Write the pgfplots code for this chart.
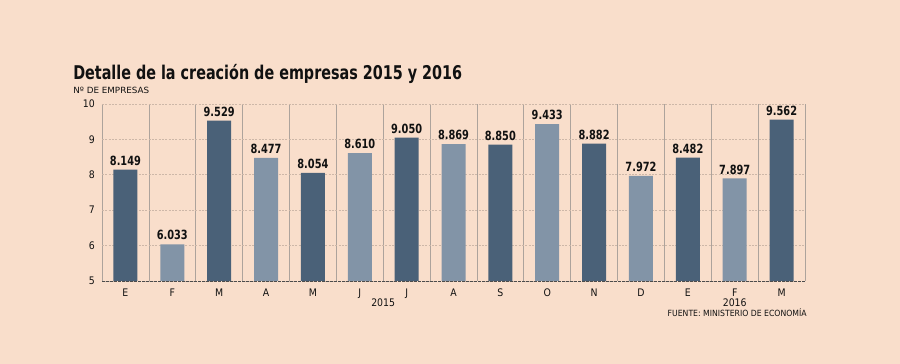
\documentclass[border=0pt]{standalone}
\usepackage{pgfplots}
\pgfplotsset{compat=1.18}
\usepackage{fontspec}
\usepackage{graphicx}
\IfFontExistsTF{DejaVu Sans Condensed}{\setmainfont{DejaVu Sans Condensed}}{\setmainfont{DejaVu Sans}}
\definecolor{bg}{HTML}{F9DECB}
\definecolor{darkbar}{HTML}{4A6178}
\definecolor{lightbar}{HTML}{8294A7}
\definecolor{vline}{HTML}{ADA39C}
\definecolor{hline}{HTML}{CDB7A8}
\definecolor{txt}{HTML}{111111}
\begin{document}
\begin{tikzpicture}
\fill[bg] (0pt,0pt) rectangle (675pt,273pt);
\node[anchor=base west,inner sep=0,text=txt] at (54.75pt,213pt) {\resizebox{291.75pt}{\height}{\fontsize{14.2}{16}\selectfont\bfseries Detalle de la creación de empresas 2015 y 2016}};
\node[anchor=base west,inner sep=0,text=txt] at (54.75pt,202.5pt) {\resizebox{57pt}{\height}{\fontsize{6.4}{7}\selectfont Nº DE EMPRESAS}};
\node[anchor=base east,inner sep=0,text=txt] at (605.25pt,35.25pt) {\resizebox{104.25pt}{\height}{\fontsize{6.4}{7}\selectfont FUENTE: MINISTERIO DE ECONOMÍA}};
\begin{axis}[
  at={(76.5pt,62.25pt)}, anchor=south west,
  scale only axis, width=527.25pt, height=132.75pt,
  xmin=-0.5, xmax=14.5, ymin=5, ymax=10,
  clip=false,
  axis line style={draw=none},
  major tick length=0pt, minor tick length=0pt,
  ytick={5,6,7,8,9,10},
  xtick={0,...,14},
  xticklabels={E,F,M,A,M,J,J,A,S,O,N,D,E,F,M},
  minor xtick={-0.5,0.5,...,14.5},
  xminorgrids, ymajorgrids,
  minor x grid style={solid, color=vline, line width=0.5pt},
  y grid style={dash pattern=on 1.5pt off 1pt, color=hline, line width=0.5pt},
  /pgf/number format/assume math mode=true,
  yticklabel style={font=\fontsize{7.8}{9}\selectfont, inner sep=0pt, xshift=-5.25pt, text=txt},
  xticklabel style={font=\fontsize{7.8}{9}\selectfont, inner sep=0pt, anchor=north, yshift=-5.5pt, text=txt},
  every node near coord/.append style={font=\fontsize{9.5}{10}\selectfont\bfseries, anchor=south, inner sep=0pt, yshift=3pt, text=txt, xscale=0.86},
]
\addplot[ybar, bar width=18pt, bar shift=0pt, fill=darkbar, draw=none, nodes near coords, point meta=explicit symbolic]
 coordinates {(0,8.149)[8.149] (2,9.529)[9.529] (4,8.054)[8.054] (6,9.050)[9.050] (8,8.850)[8.850] (10,8.882)[8.882] (12,8.482)[8.482] (14,9.562)[9.562]};
\addplot[ybar, bar width=18pt, bar shift=0pt, fill=lightbar, draw=none, nodes near coords, point meta=explicit symbolic]
 coordinates {(1,6.033)[6.033] (3,8.477)[8.477] (5,8.610)[8.610] (7,8.869)[8.869] (9,9.433)[9.433] (11,7.972)[7.972] (13,7.897)[7.897]};
\draw[dash pattern=on 2pt off 1pt, color=black!70, line width=0.6pt] (axis cs:-0.5,5) -- (axis cs:14.5,5);
\node[anchor=base, inner sep=0, text=txt, font=\fontsize{7.8}{9}\selectfont] at ([yshift=-19.5pt]axis cs:5.5,5) {2015};
\node[anchor=base, inner sep=0, text=txt, font=\fontsize{7.8}{9}\selectfont] at ([yshift=-19.5pt]axis cs:13,5) {2016};
\end{axis}
\end{tikzpicture}
\end{document}
